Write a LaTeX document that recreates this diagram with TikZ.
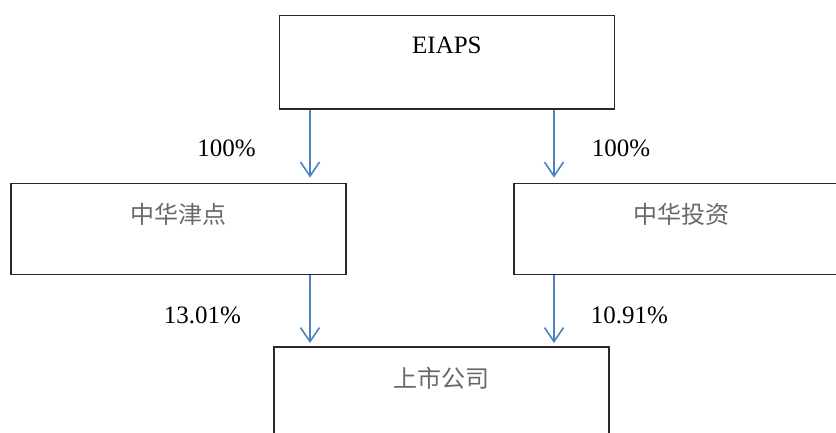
\documentclass[tikz,border=0pt]{standalone}
\usepackage{fontspec}
\setmainfont{Liberation Serif}
\newfontfamily\cjk{Noto Sans CJK SC}
\usetikzlibrary{arrows.meta}
\definecolor{arrblue}{RGB}{79,129,189}
\definecolor{boxline}{RGB}{40,40,40}
\definecolor{cjkgray}{RGB}{105,105,105}
\tikzset{
  box/.style={draw=boxline, line width=1.8pt, minimum width=335pt, inner xsep=0pt, inner ysep=0pt, anchor=north west, font=\fontsize{25}{30}\selectfont},
  cn/.style={box, text=cjkgray, font=\fontsize{24}{30}\selectfont\cjk, text height=40.5pt},
  pct/.style={anchor=base, font=\fontsize{25}{30}\selectfont},
  arr/.style={draw=arrblue, line width=1.6pt, -{Straight Barb[length=14pt,width=19pt]}}
}
\begin{document}
\begin{tikzpicture}[x=1pt,y=-1pt]
\useasboundingbox (0,0) rectangle (836,432);
\clip (0,0) rectangle (836,432);
\node[box, text height=38.5pt, text depth=55pt] (eiaps) at (278.5,14.5) {EIAPS};
\node[cn, text depth=50.5pt] (jin) at (10,182.5) {中华津点};
\node[cn, text depth=50.5pt] (tou) at (513,182.5) {中华投资};
\node[cn, text depth=55pt] (ss) at (273,346) {上市公司};
\coordinate (t1) at (310,177.5);
\coordinate (t2) at (554,177.5);
\coordinate (t3) at (310,343);
\coordinate (t4) at (554,343);
\draw[arr] (eiaps.south -| t1) -- (t1);
\draw[arr] (eiaps.south -| t2) -- (t2);
\draw[arr] (jin.south -| t3) -- (t3);
\draw[arr] (tou.south -| t4) -- (t4);
\node[pct] (p1) at (226.5,156) {100\%};
\node[pct] (p2) at (621,156) {100\%};
\node[pct] (p3) at (202.5,323) {13.01\%};
\node[pct] (p4) at (629.5,323) {10.91\%};
\end{tikzpicture}
\end{document}
